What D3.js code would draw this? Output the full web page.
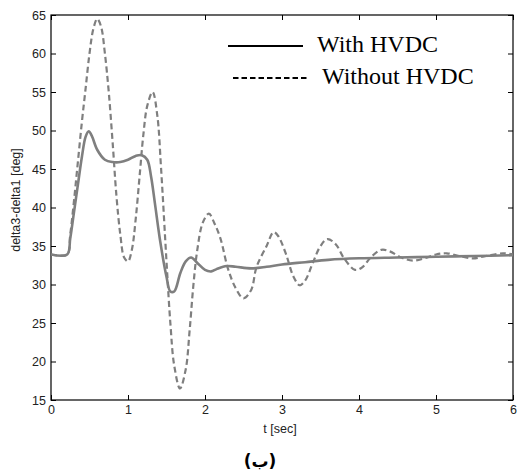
<!DOCTYPE html>
<html>
<head>
<meta charset="utf-8">
<script src="https://cdn.jsdelivr.net/npm/d3@7"></script>
<style>
  body { margin: 0; background: #fff; }
  svg { display: block; }
</style>
</head>
<body>
<svg id="chart" width="517" height="474"></svg>
<script>
// time samples (sec) and angle values (deg)
const tWith = [0, 0.21, 0.25, 0.3, 0.35, 0.4, 0.45, 0.49, 0.53, 0.6, 0.7, 0.8, 0.9, 1.0, 1.1, 1.18, 1.25, 1.3, 1.35, 1.42, 1.5, 1.55, 1.6, 1.68, 1.75, 1.82, 1.9, 2.0, 2.08, 2.15, 2.28, 2.4, 2.6, 2.8, 3.0, 3.3, 3.6, 4.0, 4.5, 5.0, 5.5, 6.0];
const withHVDC = [33.9, 33.9, 36, 39.5, 43, 46.5, 49.2, 49.9, 49.3, 47.5, 46.2, 45.9, 45.9, 46.2, 46.7, 46.8, 46.2, 44, 40.5, 35.5, 31, 29.1, 29.1, 31.5, 33, 33.5, 32.8, 31.9, 31.7, 32, 32.4, 32.3, 32.1, 32.3, 32.6, 32.9, 33.2, 33.4, 33.5, 33.6, 33.7, 33.8];

const tWithout = [0, 0.21, 0.25, 0.3, 0.35, 0.4, 0.45, 0.5, 0.55, 0.6, 0.65, 0.7, 0.75, 0.8, 0.85, 0.9, 0.95, 1.0, 1.05, 1.1, 1.15, 1.2, 1.25, 1.32, 1.38, 1.43, 1.5, 1.55, 1.6, 1.675, 1.75, 1.8, 1.85, 1.9, 1.97, 2.05, 2.12, 2.2, 2.3, 2.4, 2.5, 2.6, 2.67, 2.8, 2.89, 2.95, 3.05, 3.15, 3.23, 3.3, 3.4, 3.5, 3.59, 3.7, 3.8, 3.95, 4.05, 4.15, 4.29, 4.4, 4.55, 4.7, 4.85, 5.0, 5.14, 5.3, 5.48, 5.65, 5.87, 6.0];
const withoutHVDC = [33.9, 33.9, 36.5, 41, 46, 51, 55.5, 60, 63.2, 64.5, 63.5, 60, 55, 48.5, 41.5, 36.5, 33.5, 33, 34.5, 38.5, 44, 49.5, 53.2, 55, 52, 45, 33, 25, 19.5, 16.5, 19, 24, 30, 34.5, 38, 39.2, 38, 36, 32, 29.5, 28.2, 29.3, 32.3, 35, 36.8, 36.3, 34, 31, 29.9, 30.5, 32.8, 35, 35.9, 35.2, 33.5, 31.9, 32.3, 33.5, 34.5, 34.3, 33.5, 33.1, 33.4, 33.9, 34.05, 33.7, 33.4, 33.7, 34.05, 33.9];

const xTicks = [0, 1, 2, 3, 4, 5, 6];
const yTicks = [15, 20, 25, 30, 35, 40, 45, 50, 55, 60, 65];
const legendLabels = ["With HVDC", "Without HVDC"];

const margin = { left: 51, top: 15, right: 4, bottom: 74 };
const W = 517, H = 474;
const iw = W - margin.left - margin.right;
const ih = H - margin.top - margin.bottom;

const svg = d3.select("#chart");
const g = svg.append("g").attr("transform", `translate(${margin.left},${margin.top})`);

const x = d3.scaleLinear().domain([0, 6]).range([0, iw]);
const y = d3.scaleLinear().domain([15, 65]).range([ih, 0]);

// axes with inward ticks, mirrored on top/right
const tickFont = "'Liberation Sans', Arial, sans-serif";
function styleAxis(sel) {
  sel.select(".domain").remove();
  sel.selectAll(".tick line").attr("stroke", "#000");
  sel.selectAll("text").attr("font-family", tickFont).attr("font-size", 12.5).attr("fill", "#222");
}
g.append("g").attr("transform", `translate(0,${ih})`)
  .call(d3.axisBottom(x).tickValues(xTicks).tickSize(-5).tickPadding(5).tickFormat(d3.format("d")))
  .call(styleAxis);
g.append("g")
  .call(d3.axisLeft(y).tickValues(yTicks).tickSize(-5).tickPadding(5).tickFormat(d3.format("d")))
  .call(styleAxis);
g.append("g")
  .call(d3.axisTop(x).tickValues(xTicks).tickSize(-5).tickFormat(""))
  .call(styleAxis);
g.append("g").attr("transform", `translate(${iw},0)`)
  .call(d3.axisRight(y).tickValues(yTicks).tickSize(-5).tickFormat(""))
  .call(styleAxis);

g.append("rect")
  .attr("x", 0).attr("y", 0).attr("width", iw).attr("height", ih)
  .attr("fill", "none").attr("stroke", "#000").attr("stroke-width", 1.2);

// curves
const line = d3.line()
  .x(d => x(d[0]))
  .y(d => y(d[1]))
  .curve(d3.curveCatmullRom.alpha(0.5));

const clip = g.append("clipPath").attr("id", "clip")
  .append("rect").attr("width", iw).attr("height", ih);

g.append("path")
  .datum(tWithout.map((t, i) => [t, withoutHVDC[i]]))
  .attr("d", line)
  .attr("clip-path", "url(#clip)")
  .attr("fill", "none")
  .attr("stroke", "#7f7f7f")
  .attr("stroke-width", 2.2)
  .attr("stroke-dasharray", "6,3.5");

g.append("path")
  .datum(tWith.map((t, i) => [t, withHVDC[i]]))
  .attr("d", line)
  .attr("clip-path", "url(#clip)")
  .attr("fill", "none")
  .attr("stroke", "#7f7f7f")
  .attr("stroke-width", 2.6);

// legend
const legend = svg.append("g");
const legendRows = [
  { label: legendLabels[0], x1: 228, x2: 303, y: 46, dash: null },
  { label: legendLabels[1], x1: 233, x2: 308, y: 78, dash: "5.5,3" }
];
legendRows.forEach(r => {
  legend.append("line")
    .attr("x1", r.x1).attr("x2", r.x2).attr("y1", r.y).attr("y2", r.y)
    .attr("stroke", "#000").attr("stroke-width", 1.8)
    .attr("stroke-dasharray", r.dash);
  legend.append("text")
    .attr("x", r.x2 + 14).attr("y", r.y + 6)
    .attr("font-family", "'Liberation Serif', 'Times New Roman', serif")
    .attr("font-size", 24)
    .attr("fill", "#000")
    .text(r.label);
});

// axis labels
svg.append("text")
  .attr("x", margin.left + iw / 2 - 2).attr("y", 433)
  .attr("text-anchor", "middle")
  .attr("font-family", tickFont).attr("font-size", 12.5).attr("fill", "#222")
  .text("t [sec]");

svg.append("text")
  .attr("transform", "translate(20,200) rotate(-90)")
  .attr("text-anchor", "middle")
  .attr("font-family", tickFont).attr("font-size", 12.5).attr("fill", "#222")
  .text("delta3-delta1 [deg]");

// caption
svg.append("text")
  .attr("x", 260).attr("y", 467)
  .attr("text-anchor", "middle")
  .attr("font-family", "'DejaVu Sans', sans-serif").attr("font-weight", "bold").attr("font-size", 17)
  .attr("fill", "#000")
  .text("(ب)");
</script>
</body>
</html>
